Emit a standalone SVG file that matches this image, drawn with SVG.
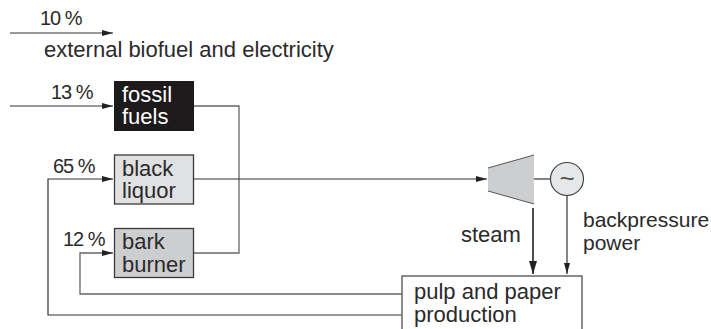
<svg xmlns="http://www.w3.org/2000/svg" width="711" height="329" viewBox="0 0 711 329">
<style>
text{font-family:"Liberation Sans",Arial,sans-serif;font-size:22px;fill:#2a2a2a}
.p{font-size:20px;letter-spacing:-1px}
.c{fill:none;stroke:#333;stroke-width:1.2}
.g{fill:none;stroke:#666;stroke-width:1.3}
.b{stroke:#3a3a3a;stroke-width:1.3}
</style>
<defs>
<marker id="a" markerUnits="userSpaceOnUse" markerWidth="11" markerHeight="6" refX="11" refY="3" orient="auto"><path d="M0 0L11 3L0 6Z" fill="#222"/></marker>
<marker id="d" markerUnits="userSpaceOnUse" markerWidth="13" markerHeight="8" refX="13" refY="4" orient="auto"><path d="M0 0L13 4L0 8Z" fill="#222"/></marker>
</defs>
<g id="connectors">
<path class="c" d="M10 33H113" marker-end="url(#a)"/>
<path class="c" d="M10 106H113" marker-end="url(#a)"/>
<path class="g" d="M194 106H239V253H194"/>
<path class="c" d="M194 179H487" marker-end="url(#a)"/>
<path class="c" d="M402 315H48V179H113" marker-end="url(#a)"/>
<path class="g" d="M402 294H80V253H113" marker-end="url(#a)"/>
<path d="M533 208V274" fill="none" stroke="#222" stroke-width="1.6" marker-end="url(#d)"/>
<path class="c" d="M567 196V274" marker-end="url(#a)"/>
<path class="c" d="M534 179H550"/>
</g>
<g id="label-10"><text class="p" x="40" y="25">10 %</text></g>
<g id="label-external"><text x="44" y="57">external biofuel and electricity</text></g>
<g id="label-13"><text class="p" x="51" y="99">13 %</text></g>
<g id="fossil-fuels"><rect x="114" y="81" width="80" height="50" fill="#1c1a1a"/><text y="102" style="fill:#fff"><tspan x="122">fossil</tspan><tspan x="122" dy="22">fuels</tspan></text></g>
<g id="label-65"><text class="p" x="53" y="173">65 %</text></g>
<g id="black-liquor"><rect class="b" x="114.500" y="155" width="79" height="49" fill="#e0e1e3"/><text y="176"><tspan x="122">black</tspan><tspan x="122" dy="22">liquor</tspan></text></g>
<g id="label-12"><text class="p" x="63" y="246">12 %</text></g>
<g id="bark-burner"><rect class="b" x="114.500" y="228.500" width="79" height="49" fill="#cdced0"/><text y="249"><tspan x="122">bark</tspan><tspan x="122" dy="23">burner</tspan></text></g>
<g id="turbine"><path d="M488 168L534 155V204L488 191Z" fill="#cdced0"/><path d="M488 168L534 155M488 191L534 204" stroke="#555" stroke-width="1" fill="none"/></g>
<g id="generator"><circle cx="567" cy="179" r="16.500" fill="#e6e7e8" stroke="#444" stroke-width="1.200"/><text x="567" y="187" text-anchor="middle" style="font-size:26px;fill:#555">~</text></g>
<g id="label-steam"><text x="461" y="242">steam</text></g>
<g id="label-backpressure"><text y="227" style="font-size:21px"><tspan x="583">backpressure</tspan><tspan x="583" dy="23">power</tspan></text></g>
<g id="pulp-paper"><rect x="402" y="276" width="180" height="60" fill="#fff" stroke="#666" stroke-width="1.500"/><text y="299"><tspan x="414">pulp and paper</tspan><tspan x="414" dy="23">production</tspan></text></g>
</svg>
